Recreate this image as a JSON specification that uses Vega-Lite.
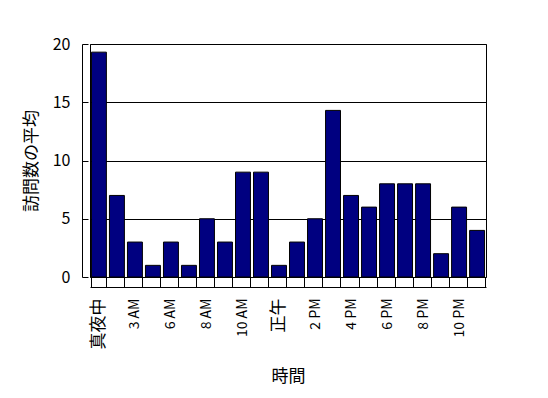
{
  "$schema": "https://vega.github.io/schema/vega-lite/v6.json",
  "width": 396,
  "height": 233,
  "autosize": {"type": "none"},
  "padding": {"left": 90, "top": 44, "right": 62, "bottom": 121},
  "background": "white",
  "config": {
    "font": "Noto Sans CJK JP",
    "view": {"stroke": "black", "strokeWidth": 1}
  },
  "data": {
    "values": [
      {"hour": "真夜中", "value": 19.3},
      {"hour": "1 AM", "value": 7},
      {"hour": "3 AM", "value": 3},
      {"hour": "4 AM", "value": 1},
      {"hour": "6 AM", "value": 3},
      {"hour": "7 AM", "value": 1},
      {"hour": "8 AM", "value": 5},
      {"hour": "9 AM", "value": 3},
      {"hour": "10 AM", "value": 9},
      {"hour": "11 AM", "value": 9},
      {"hour": "正午", "value": 1},
      {"hour": "1 PM", "value": 3},
      {"hour": "2 PM", "value": 5},
      {"hour": "3 PM", "value": 14.3},
      {"hour": "4 PM", "value": 7},
      {"hour": "5 PM", "value": 6},
      {"hour": "6 PM", "value": 8},
      {"hour": "7 PM", "value": 8},
      {"hour": "8 PM", "value": 8},
      {"hour": "9 PM", "value": 2},
      {"hour": "10 PM", "value": 6},
      {"hour": "11 PM", "value": 4}
    ]
  },
  "mark": {"type": "bar", "color": "#000080", "stroke": "black", "strokeWidth": 1},
  "encoding": {
    "x": {
      "field": "hour",
      "type": "ordinal",
      "sort": null,
      "scale": {"paddingInner": 0.17, "paddingOuter": 0.08},
      "axis": {
        "title": "時間",
        "titleFontSize": 17,
        "titleFontWeight": "normal",
        "titleColor": "black",
        "titlePadding": 20,
        "labelAngle": -90,
        "labelColor": "black",
        "labelFontSize": {"condition": {"test": "datum.value == '真夜中' || datum.value == '正午'", "value": 17}, "value": 14},
        "labelExpr": "indexof(['真夜中','3 AM','6 AM','8 AM','10 AM','正午','2 PM','4 PM','6 PM','8 PM','10 PM'], datum.value) >= 0 ? datum.value : ''",
        "labelPadding": 21,
        "offset": 10,
        "domainColor": "black",
        "tickColor": "black",
        "tickSize": -10,
        "tickBand": "extent"
      }
    },
    "y": {
      "field": "value",
      "type": "quantitative",
      "scale": {"domain": [0, 20], "nice": false},
      "axis": {
        "title": "訪問数の平均",
        "titleFontSize": 17,
        "titleFontWeight": "normal",
        "titleColor": "black",
        "titlePadding": 12,
        "values": [0, 5, 10, 15, 20],
        "grid": true,
        "gridColor": "black",
        "gridOpacity": 1,
        "labelFontSize": 16,
        "labelColor": "black",
        "labelPadding": 18,
        "offset": 8,
        "domainColor": "black",
        "tickColor": "black",
        "tickSize": -6
      }
    }
  }
}
